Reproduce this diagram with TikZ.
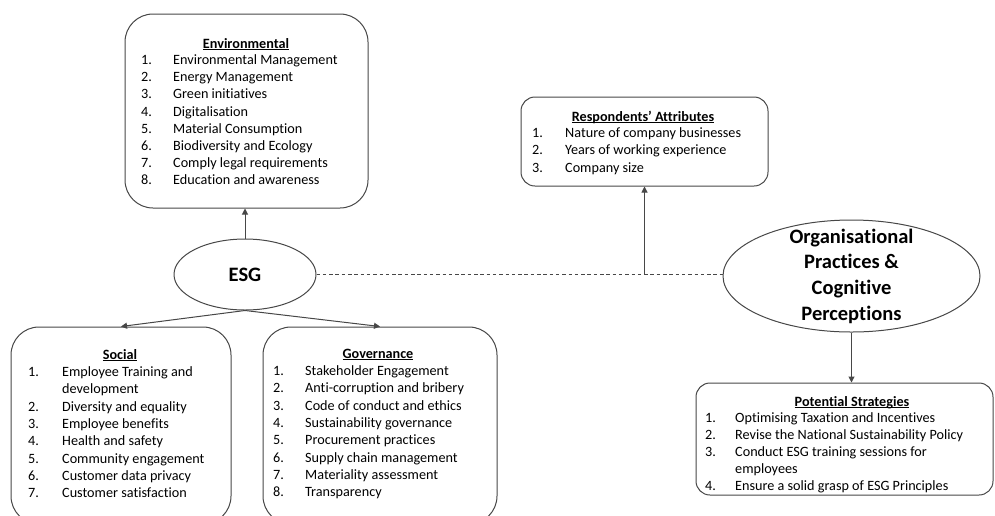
\documentclass[tikz,border=0pt]{standalone}
\usepackage{fontspec}
\setmainfont{Carlito}[Ligatures={TeX,NoCommon}]
\usetikzlibrary{arrows.meta,shapes.geometric,calc}

% bold title with a flat underline just under the baseline
\newcommand\boxtitle[1]{\setbox0\hbox{\bfseries #1}\rlap{\rule[-1.7pt]{\wd0}{0.9pt}}\box0}

\begin{document}
\begin{tikzpicture}[x=1pt,y=-1pt,
  line/.style={draw=black!72,line width=1pt},
  arr/.style={line,-{Triangle[length=6pt,width=6pt]}},
  panel/.style={line,rectangle,inner sep=0pt},
  oval/.style={line,ellipse,inner sep=0pt},
  items/.style={font=\fontsize{14.2}{17.2}\selectfont,inner sep=0pt,anchor=base west,align=left},
  ttl/.style={font=\fontsize{14.2}{17.2}\selectfont,inner sep=0pt,anchor=base},
]
\useasboundingbox (0,0) rectangle (995,515);
\clip (0,0) rectangle (995,515);

% panels
\node[panel,rounded corners=28pt,minimum width=243pt,minimum height=194pt] (env) at (246.5,111) {};
\node[panel,rounded corners=14pt,minimum width=247pt,minimum height=89pt] (resp) at (644.5,141.5) {};
\node[panel,rounded corners=28pt,minimum width=220pt,minimum height=197pt] (social) at (121,425.5) {};
\node[panel,rounded corners=28pt,minimum width=234pt,minimum height=197pt] (gov) at (380,425.5) {};
\node[panel,rounded corners=14pt,minimum width=297pt,minimum height=112pt] (strat) at (844.5,439) {};

% ovals
\node[oval,minimum width=142pt,minimum height=71pt,font=\fontsize{20.5}{24}\selectfont\bfseries] (esg) at (245,274.5) {ESG};
\node[oval,minimum width=257pt,minimum height=112pt] (org) at (851.5,276) {};
\node[font=\fontsize{20.5}{25.7}\selectfont\bfseries,align=center,inner sep=0pt] (orgtext) at (org.center)
  {Organisational\\Practices \&\\Cognitive\\Perceptions};

% panel texts
\node[ttl] (envt) at (246,48) {\boxtitle{Environmental}};
\node[items] (envl) at (141,64.5) {\begin{tabular}[t]{@{}p{32pt}@{}l@{}}
1. & Environmental Management\\
2. & Energy Management\\
3. & Green initiatives\\
4. & Digitalisation\\
5. & Material Consumption\\
6. & Biodiversity and Ecology\\
7. & Comply legal requirements\\
8. & Education and awareness
\end{tabular}};

\node[ttl] (respt) at (643,121.5) {\boxtitle{Respondents’ Attributes}};
\node[items,font=\fontsize{14.2}{17.4}\selectfont] (respl) at (532,137.5) {\begin{tabular}[t]{@{}p{33pt}@{}l@{}}
1. & Nature of company businesses\\
2. & Years of working experience\\
3. & Company size
\end{tabular}};

\node[ttl] (socialt) at (120,359.5) {\boxtitle{Social}};
\node[items,font=\fontsize{14.2}{17.3}\selectfont] (sociall) at (28,376.5) {\begin{tabular}[t]{@{}p{34pt}@{}l@{}}
1. & Employee Training and\\
   & development\\
2. & Diversity and equality\\
3. & Employee benefits\\
4. & Health and safety\\
5. & Community engagement\\
6. & Customer data privacy\\
7. & Customer satisfaction
\end{tabular}};

\node[ttl] (govt) at (378,358.5) {\boxtitle{Governance}};
\node[items,font=\fontsize{14.2}{17.3}\selectfont] (govl) at (273,375.5) {\begin{tabular}[t]{@{}p{32pt}@{}l@{}}
1. & Stakeholder Engagement\\
2. & Anti-corruption and bribery\\
3. & Code of conduct and ethics\\
4. & Sustainability governance\\
5. & Procurement practices\\
6. & Supply chain management\\
7. & Materiality assessment\\
8. & Transparency
\end{tabular}};

\node[ttl] (stratt) at (852,406.5) {\boxtitle{Potential Strategies}};
\node[items] (stratl) at (705,422) {\begin{tabular}[t]{@{}p{30pt}@{}l@{}}
1. & Optimising Taxation and Incentives\\
2. & Revise the National Sustainability Policy\\
3. & Conduct ESG training sessions for\\
   & employees\\
4. & Ensure a solid grasp of ESG Principles
\end{tabular}};

% connectors
\draw[arr] (esg.north) -- (esg.north |- env.south);
\draw[arr] (esg.south) -- (social.north);
\draw[arr] (esg.south) -- (gov.north);
\draw[line,dash pattern=on 3.5pt off 2.8pt] (esg.east) -- (esg.east -| org.west);
\coordinate (tap) at (resp.south |- esg.east);
\draw[arr] (tap) -- (resp.south);
\draw[arr] (org.south) -- (org.south |- strat.north);
\end{tikzpicture}
\end{document}
